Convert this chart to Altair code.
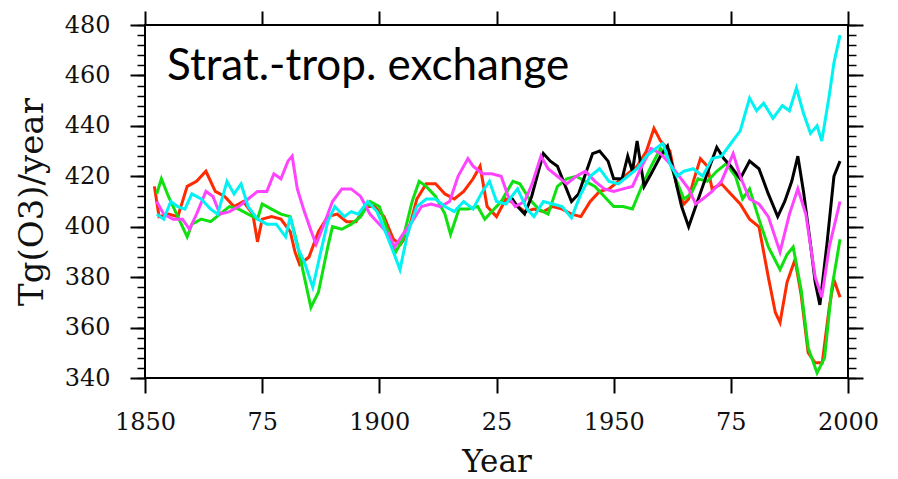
import altair as alt
import pandas as pd

# ---------------- data ----------------
red_year = [1852, 1853, 1855, 1857, 1859, 1861, 1863, 1865, 1867, 1869,
            1871, 1873, 1874, 1875, 1877, 1879, 1881, 1882, 1883, 1885,
            1887, 1889, 1891, 1893, 1895, 1897, 1899, 1901, 1903, 1904.5,
            1906, 1908, 1910, 1912, 1914, 1916, 1918, 1920, 1921.5, 1923,
            1925, 1927, 1929, 1931, 1933, 1935, 1937, 1939, 1941, 1943,
            1945, 1947, 1949, 1951, 1953, 1955, 1957, 1958.6, 1960, 1962,
            1963.5, 1965, 1966, 1967, 1968.5, 1970, 1971, 1973, 1975, 1977,
            1979, 1981, 1983, 1984.5, 1985.5, 1987, 1988.7, 1990, 1991.5, 1993,
            1994.5, 1996, 1997, 1998.3]
red_val = [416, 404, 405, 404, 416, 418, 422, 414, 412, 408,
           410, 405, 394, 403, 404, 403, 398, 390, 385, 388,
           398, 404, 405, 402, 402, 408, 408, 404, 395, 393,
           397, 411, 417, 417, 413, 411, 414, 419, 424, 408,
           404, 411, 409, 406, 407, 406, 408, 407, 405, 404,
           410, 414, 415, 418, 421, 424, 430, 439, 434, 430,
           416, 409, 411, 418, 427, 424, 415, 417, 413, 409,
           403, 400, 380, 366, 362, 378, 387, 373, 350, 346,
           346, 368, 379, 372]

green_year = [1852.5, 1853.5, 1855, 1857, 1859, 1860, 1862, 1864, 1866, 1868,
              1870, 1872, 1874, 1875, 1877, 1879, 1881, 1882.5, 1884, 1885.4,
              1887, 1889, 1890, 1892, 1894, 1896, 1898, 1900, 1901.5, 1903.5,
              1905, 1907, 1908.5, 1910, 1912, 1914, 1915.2, 1917, 1919, 1921,
              1922.5, 1924, 1926, 1928.5, 1930, 1932, 1934, 1936, 1938, 1940,
              1942, 1944, 1946, 1948, 1950, 1952, 1954, 1956, 1958, 1960,
              1961.5, 1963, 1965, 1966.5, 1968, 1970, 1972, 1974, 1976, 1977.5,
              1979, 1981, 1983, 1985.5, 1987, 1988.3, 1990, 1991.5, 1993.4, 1995,
              1996.5, 1998.3]
green_val = [413, 419, 412, 404, 396, 401, 403, 402, 405, 408,
             407, 405, 403, 409, 407, 405, 404, 393, 380, 368,
             374, 392, 400, 399, 401, 404, 410, 408, 400, 390,
             395, 410, 418, 416, 412, 405, 397, 407, 407, 408,
             403, 406, 410, 418, 417, 411, 407, 405, 416, 419,
             420, 418, 416, 412, 408, 408, 407, 416, 424, 431,
             428, 420, 411, 413, 419, 418, 422, 425, 420, 411,
             415, 403, 392, 383, 389, 392, 375, 352, 342, 348,
             375, 395]

magenta_year = [1852.5, 1854, 1856, 1858, 1859.5, 1861, 1863, 1864.5, 1866, 1868,
                1870, 1872, 1874, 1876, 1877.5, 1879, 1880.5, 1881.4, 1882.5, 1884,
                1885.5, 1886.5, 1888, 1890, 1892, 1894, 1896, 1898, 1900, 1902,
                1903.3, 1905, 1907, 1909, 1911, 1913, 1915, 1916.8, 1918.9, 1920,
                1922, 1924, 1926, 1927.5, 1929, 1931, 1932.6, 1934.5, 1936, 1938,
                1940, 1942, 1944, 1946, 1948, 1950, 1952, 1954, 1956, 1958,
                1960, 1962, 1964, 1966, 1967.5, 1969, 1971, 1973, 1975.5, 1977,
                1979, 1981, 1983, 1985.5, 1987.5, 1989.3, 1991, 1993, 1994.4, 1996,
                1998.3]
magenta_val = [410, 405, 403, 403, 399, 405, 414, 412, 405, 406,
               408, 411, 414, 414, 421, 419, 426, 428, 415, 406,
               398, 393, 400, 410, 415, 415, 412, 405, 401, 397,
               392, 397, 402, 408, 409, 408, 410, 420, 427, 424,
               421, 421, 420, 412, 408, 410, 417, 428, 423, 420,
               417, 420, 422, 418, 415, 414, 415, 416, 424, 431,
               429, 425, 420, 415, 409, 411, 414, 418, 429, 420,
               411, 409, 404, 390, 405, 415, 405, 380, 372, 392,
               410]

cyan_year = [1852.5, 1854, 1855.5, 1857, 1858.5, 1860, 1862, 1864, 1865.5, 1867.5,
             1869, 1870.5, 1872, 1874, 1876, 1878, 1880, 1881, 1882.5, 1884,
             1885.8, 1887.5, 1889, 1890.5, 1892.5, 1894, 1895.5, 1897.5, 1899.5, 1901.5,
             1903, 1904.4, 1906, 1908, 1910, 1912, 1914, 1916, 1918, 1920,
             1922, 1923.5, 1925, 1927, 1929.5, 1931.5, 1933, 1935, 1937, 1939,
             1941, 1943, 1945, 1947, 1949, 1951, 1953, 1955, 1957, 1959,
             1960.5, 1962, 1963.5, 1965, 1967, 1969, 1971, 1973, 1975, 1977,
             1979, 1980.5, 1982, 1984, 1986, 1987.5, 1989, 1990.5, 1992, 1993.4,
             1994.4, 1996, 1997, 1998.3]
cyan_val = [405, 403, 410, 408, 407, 413, 411, 407, 405, 418,
            413, 417, 408, 403, 401, 401, 396, 404, 392, 386,
            376, 390, 402, 408, 404, 406, 405, 410, 406, 397,
            390, 383, 397, 408, 411, 411, 408, 406, 410, 407,
            414, 418, 410, 409, 415, 407, 404, 410, 409, 408,
            403.5, 413, 420, 423, 418, 417, 420, 423, 428, 431,
            433, 425, 420, 422, 423, 420, 427, 428, 433, 438,
            451, 446, 449, 443, 448, 446, 455, 445, 437, 440,
            434, 452, 465, 476]

black_year = [1928, 1929.5, 1931, 1932.5, 1933.8, 1935, 1936.5, 1938, 1939.5, 1941,
              1942.5, 1944, 1945.5, 1947, 1948.8, 1950, 1951.8, 1953, 1954, 1955,
              1956.5, 1958, 1960, 1961.5, 1963, 1964.5, 1966, 1967.5, 1969, 1970.5,
              1972, 1973.5, 1975, 1977, 1979, 1981, 1983, 1985, 1986.5, 1988,
              1989.3, 1990.5, 1992, 1993, 1994, 1995.5, 1997, 1998.3]
black_val = [412, 408, 405, 412, 421, 429, 426, 424, 417, 410,
             413, 421, 429, 430, 426, 419, 419, 428, 422, 434,
             416, 421, 428, 432, 420, 408, 400, 408, 416, 424,
             431.5, 427, 424, 419, 426, 423, 413, 404, 410, 418,
             428, 414, 393, 378, 369, 393, 420, 426]

x_tick_values = [1850, 1875, 1900, 1925, 1950, 1975, 2000]
x_tick_labels = ["1850", "75", "1900", "25", "1950", "75", "2000"]
y_tick_values = [340, 360, 380, 400, 420, 440, 460, 480]
y_minor_values = list(range(340, 481, 4))

annotation_text = "Strat.-trop. exchange"
annotation_year = 1854.7
annotation_value = 458.2

# ---------------- build table ----------------
series = [
    ("red", red_year, red_val, "#ff2a00"),
    ("green", green_year, green_val, "#10e010"),
    ("black", black_year, black_val, "#000000"),
    ("magenta", magenta_year, magenta_val, "#ff44ff"),
    ("cyan", cyan_year, cyan_val, "#00f2f2"),
]
rows = []
for name, yrs, vals, _c in series:
    for yy, vv in zip(yrs, vals):
        rows.append({"series": name, "year": yy, "value": vv})
df = pd.DataFrame(rows)
ann = pd.DataFrame({"year": [annotation_year], "value": [annotation_value], "text": [annotation_text]})

FONT = "DejaVu Serif"
x_scale = alt.Scale(domain=[1850, 2000], nice=False, zero=False)
y_scale = alt.Scale(domain=[340, 480], nice=False, zero=False)

label_expr = " : ".join(
    f"datum.value == {v} ? '{t}'" for v, t in zip(x_tick_values, x_tick_labels)
) + " : ''"

common = dict(domain=False, grid=False, tickColor="black", labelColor="#111111")

x_main = alt.Axis(orient="bottom", values=x_tick_values, labelExpr=label_expr,
                  tickSize=15, tickWidth=2, labelPadding=17, labelFont=FONT,
                  labelFontSize=24, labelFlush=False, labelOverlap=False,
                  title="Year", titleFont=FONT, titleFontSize=31,
                  titleFontWeight="normal", titleColor="#111111",
                  titleBaseline="alphabetic", titleAlign="center",
                  titleX=351.5, titleY=93, **common)
y_main = alt.Axis(orient="left", values=y_tick_values, tickSize=15, tickWidth=2,
                  labelPadding=20, labelFont=FONT, labelFontSize=24,
                  labelOverlap=False, labelFlush=False,
                  title="Tg(O3)/year", titleFont=FONT, titleFontSize=34,
                  titleFontWeight="normal", titleColor="#111111",
                  titleBaseline="alphabetic", titleAlign="center",
                  titleAngle=270, titleX=-103, titleY=176.5, **common)
y_left_minor = alt.Axis(orient="left", values=y_minor_values, tickSize=8, tickWidth=1.5,
                        labels=False, title=None, **common)
y_right_major = alt.Axis(orient="right", values=y_tick_values, tickSize=15, tickWidth=2,
                         labels=False, title=None, **common)
y_right_minor = alt.Axis(orient="right", values=y_minor_values, tickSize=8, tickWidth=1.5,
                         labels=False, title=None, **common)
x_top = alt.Axis(orient="top", values=x_tick_values, tickSize=14, tickWidth=2,
                 labels=False, title=None, **common)

base = alt.Chart(df)


def axis_layer(xaxis, yaxis):
    return base.mark_line(opacity=0).encode(
        x=alt.X("year:Q", scale=x_scale, axis=xaxis),
        y=alt.Y("value:Q", scale=y_scale, axis=yaxis),
        detail="series:N",
    )


layers = [
    axis_layer(x_main, y_main),
    axis_layer(None, y_left_minor),
    axis_layer(None, y_right_major),
    axis_layer(None, y_right_minor),
    axis_layer(x_top, None),
]

for name, _y, _v, col in series:
    layers.append(
        base.transform_filter(alt.datum.series == name)
        .mark_line(color=col, strokeWidth=3, clip=True)
        .encode(
            x=alt.X("year:Q", scale=x_scale, axis=None),
            y=alt.Y("value:Q", scale=y_scale, axis=None),
        )
    )

layers.append(
    alt.Chart(ann).mark_text(align="left", baseline="alphabetic", font="Lato",
                             fontSize=44, color="black")
    .encode(
        x=alt.X("year:Q", scale=x_scale, axis=None),
        y=alt.Y("value:Q", scale=y_scale, axis=None),
        text="text:N",
    )
)

chart = (
    alt.layer(*layers)
    .resolve_axis(x="independent", y="independent")
    .properties(
        width=703,
        height=353,
        autosize=alt.AutoSizeParams(type="none"),
        padding={"left": 145, "top": 25, "right": 50, "bottom": 101},
        background="white",
    )
    .configure_view(stroke="black", strokeWidth=2)
)

chart.save("out.html", embed_options={"renderer": "svg", "actions": False})
